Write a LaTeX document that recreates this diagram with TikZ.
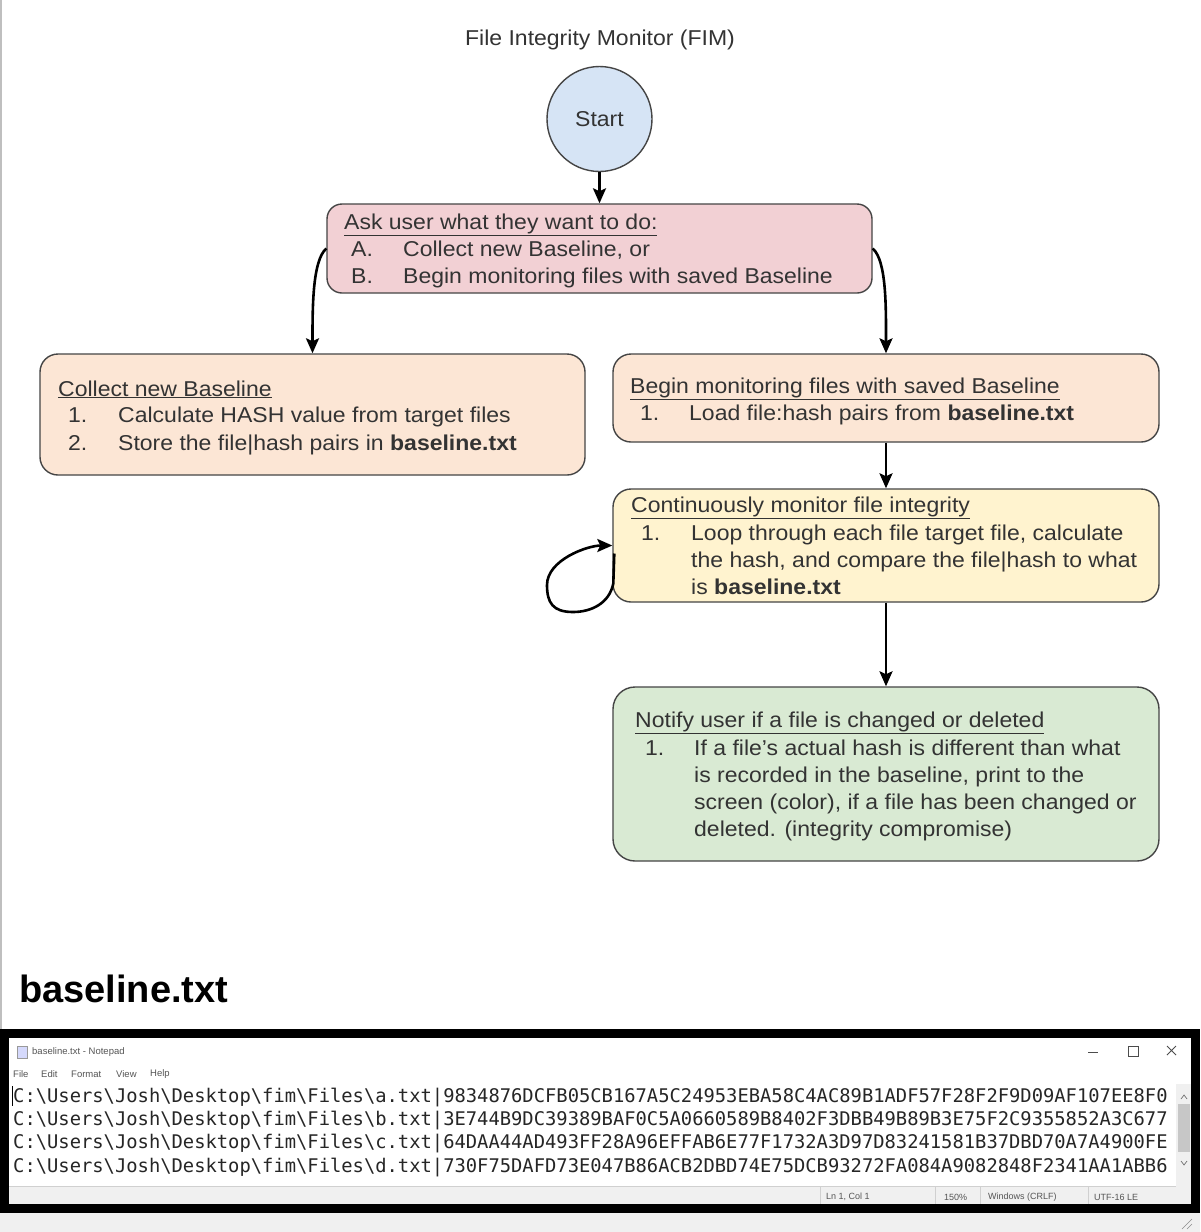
\documentclass[tikz,border=0pt]{standalone}
\usepackage{fontspec}
\setmainfont{Liberation Sans}[FakeStretch=1.07]
\newfontfamily\plainsans{Liberation Sans}
\newfontfamily\monofont{DejaVu Sans Mono}
\usetikzlibrary{arrows.meta}

\definecolor{txt}{HTML}{333333}
\definecolor{boxline}{HTML}{454545}
\definecolor{startfill}{HTML}{D6E4F5}
\definecolor{askfill}{HTML}{F2D0D4}
\definecolor{peach}{HTML}{FCE6D5}
\definecolor{cream}{HTML}{FFF3CF}
\definecolor{mint}{HTML}{D9EAD3}
\definecolor{chrome}{HTML}{F0F0F0}
\definecolor{chromeline}{HTML}{D0D0D0}
\definecolor{uitext}{HTML}{555555}

\tikzset{
  box/.style={draw=boxline, line width=1.4pt, rounded corners=15pt, inner sep=0pt},
  lbl/.style={anchor=base west, inner sep=0pt, text=txt, font=\fontsize{21.5}{25}\selectfont},
  conn/.style={line width=2.6pt, -{Stealth[length=15pt,width=13pt,inset=3pt]}},
  mono/.style={anchor=base west, inner sep=0pt, text=black!85, font=\monofont\fontsize{18.8}{23}\selectfont},
  ui/.style={inner sep=0pt, text=uitext, font=\plainsans\fontsize{9.5}{11}\selectfont},
}

\begin{document}
\begin{tikzpicture}[x=1pt,y=-1pt]
\useasboundingbox (0,0) rectangle (1200,1232);
\fill[white] (0,0) rectangle (1200,1232);
\draw[black!25, line width=1.5pt] (0.75,0) -- (0.75,1030);

% title
\node[inner sep=0pt, text=txt, font=\fontsize{21.5}{25}\selectfont] (title) at (600,40) {File Integrity Monitor (FIM)};

% start
\node[circle, draw=boxline, line width=1.4pt, fill=startfill, minimum size=105pt, inner sep=0pt,
      text=txt, font=\fontsize{21.5}{25}\selectfont] (start) at (599.5,119) {Start};

% boxes
\node[box, fill=askfill, minimum width=545pt, minimum height=89pt] (ask) at (599.5,248.5) {};
\node[box, fill=peach, rounded corners=18pt, minimum width=545pt, minimum height=121pt] (collect) at (312.5,414.5) {};
\node[box, fill=peach, rounded corners=18pt, minimum width=546pt, minimum height=88pt] (begin) at (886,398) {};
\node[box, fill=cream, rounded corners=18pt, minimum width=546pt, minimum height=113pt] (cont) at (886,545.5) {};
\node[box, fill=mint, rounded corners=22pt, minimum width=546pt, minimum height=174pt] (notify) at (886,774) {};

% ask text
\node[lbl] (askt) at (344,229) {\underline{Ask user what they want to do:}};
\node[lbl] (askan) at (351,256) {A.};
\node[lbl] (aska) at (403,256) {Collect new Baseline, or};
\node[lbl] (askbn) at (351,283) {B.};
\node[lbl] (askb) at (403,283) {Begin monitoring files with saved Baseline};

% collect text
\node[lbl] (colt) at (58,396) {\underline{Collect new Baseline}};
\node[lbl] (col1n) at (68,422) {1.};
\node[lbl] (col1) at (118,422) {Calculate HASH value from target files};
\node[lbl] (col2n) at (68,450) {2.};
\node[lbl] (col2) at (118,450) {Store the file|hash pairs in \textbf{baseline.txt}};

% begin text
\node[lbl] (begt) at (630,393) {\underline{Begin monitoring files with saved Baseline}};
\node[lbl] (beg1n) at (640,420) {1.};
\node[lbl] (beg1) at (689,420) {Load file:hash pairs from \textbf{baseline.txt}};

% continuous text
\node[lbl] (contt) at (631,512) {\underline{Continuously monitor file integrity}};
\node[lbl] (con1n) at (641,540) {1.};
\node[lbl] (con1a) at (691,540) {Loop through each file target file, calculate};
\node[lbl] (con1b) at (691,567) {the hash, and compare the file|hash to what};
\node[lbl] (con1c) at (691,594) {is \textbf{baseline.txt}};

% notify text
\node[lbl] (nott) at (635,727) {\underline{Notify user if a file is changed or deleted}};
\node[lbl] (not1n) at (645,755) {1.};
\node[lbl] (not1a) at (694,755) {If a file's actual hash is different than what};
\node[lbl] (not1b) at (694,782) {is recorded in the baseline, print to the};
\node[lbl] (not1c) at (694,809) {screen (color), if a file has been changed or};
\node[lbl] (not1d) at (694,836) {deleted. (integrity compromise)};

% connectors
\draw[conn] (start.south) -- (ask.north);
\draw[conn] (ask.west) .. controls +(-14,12) and +(0,-45) .. (collect.north);
\draw[conn] (ask.east) .. controls +(14,12) and +(0,-45) .. (begin.north);
\draw[conn] (begin.south) -- (cont.north);
\draw[conn] (cont.south) -- (notify.north);
\coordinate (loopout) at ([xshift=2pt,yshift=-8pt]cont.west);
\draw[conn] (loopout) -- ++(-1,30) .. controls +(-4,20) and +(18,0) .. (573,612)
            .. controls +(-20,0) and +(0,18) .. (547,585)
            .. controls +(0,-25) and +(-25,0) .. (cont.west);

% heading above the file view
\node[anchor=base west, inner sep=0pt, font=\plainsans\bfseries\fontsize{38}{42}\selectfont] (fname) at (19,1002) {baseline.txt};

% file window
\fill[white] (4,1033) rectangle (1196,1209);
\fill[chrome] (8,1186) rectangle (1192,1205);
\draw[chromeline, line width=0.6pt] (8,1186) -- (1176,1186);
\foreach \sx in {820,935,980,1088} \draw[chromeline, line width=0.6pt] (\sx,1187) -- (\sx,1205);
\node[ui, anchor=west, font=\plainsans\fontsize{9}{10}\selectfont] (st1) at (826,1197) {Ln 1, Col 1};
\node[ui, anchor=west, font=\plainsans\fontsize{9}{10}\selectfont] (st2) at (944,1197) {150\%};
\node[ui, anchor=west, font=\plainsans\fontsize{9}{10}\selectfont] (st3) at (988,1197) {Windows (CRLF)};
\node[ui, anchor=west, font=\plainsans\fontsize{9}{10}\selectfont] (st4) at (1094,1197) {UTF-16 LE};

% scroll bar
\fill[chrome] (1176,1084) rectangle (1192,1186);
\fill[black!22] (1178,1104) rectangle (1190,1152);
\draw[black!55, line width=0.7pt] (1181,1099) -- (1184,1095) -- (1187,1099);
\draw[black!55, line width=0.7pt] (1181,1161) -- (1184,1165) -- (1187,1161);

% title bar and menu
\fill[startfill!70!blue!40] (17,1046) rectangle (27,1058);
\draw[black!40, line width=0.5pt] (17,1046) rectangle (27,1058);
\node[ui, anchor=west] (wtitle) at (32,1052) {baseline.txt - Notepad};
\draw[black!70, line width=0.8pt] (1088,1052) -- (1098,1052);
\draw[black!70, line width=0.8pt] (1128,1046) rectangle (1138,1056);
\draw[black!70, line width=0.8pt] (1167,1046) -- (1176,1055) (1176,1046) -- (1167,1055);
\node[ui, anchor=west] (m1) at (13,1074) {File};
\node[ui, anchor=west] (m2) at (41,1074) {Edit};
\node[ui, anchor=west] (m3) at (71,1074) {Format};
\node[ui, anchor=west] (m4) at (116,1074) {View};
\node[ui, anchor=west] (m5) at (150,1074) {Help};

% file contents
\draw[black, line width=0.8pt] (12,1086) -- (12,1106);
\node[mono] (l1) at (13,1102) {C:\textbackslash Users\textbackslash Josh\textbackslash Desktop\textbackslash fim\textbackslash Files\textbackslash a.txt|9834876DCFB05CB167A5C24953EBA58C4AC89B1ADF57F28F2F9D09AF107EE8F0};
\node[mono] (l2) at (13,1125) {C:\textbackslash Users\textbackslash Josh\textbackslash Desktop\textbackslash fim\textbackslash Files\textbackslash b.txt|3E744B9DC39389BAF0C5A0660589B8402F3DBB49B89B3E75F2C9355852A3C677};
\node[mono] (l3) at (13,1148) {C:\textbackslash Users\textbackslash Josh\textbackslash Desktop\textbackslash fim\textbackslash Files\textbackslash c.txt|64DAA44AD493FF28A96EFFAB6E77F1732A3D97D83241581B37DBD70A7A4900FE};
\node[mono] (l4) at (13,1172) {C:\textbackslash Users\textbackslash Josh\textbackslash Desktop\textbackslash fim\textbackslash Files\textbackslash d.txt|730F75DAFD73E047B86ACB2DBD74E75DCB93272FA084A9082848F2341AA1ABB6};

% window frame
\draw[black, line width=9pt] (4.5,1033.5) rectangle (1195.5,1208.5);

% strip below the window
\fill[chrome] (0,1213) rectangle (1200,1232);
\draw[black!45, line width=0.6pt] (1182,1229) -- (1192,1219) (1187,1229) -- (1192,1224);
\end{tikzpicture}
\end{document}
